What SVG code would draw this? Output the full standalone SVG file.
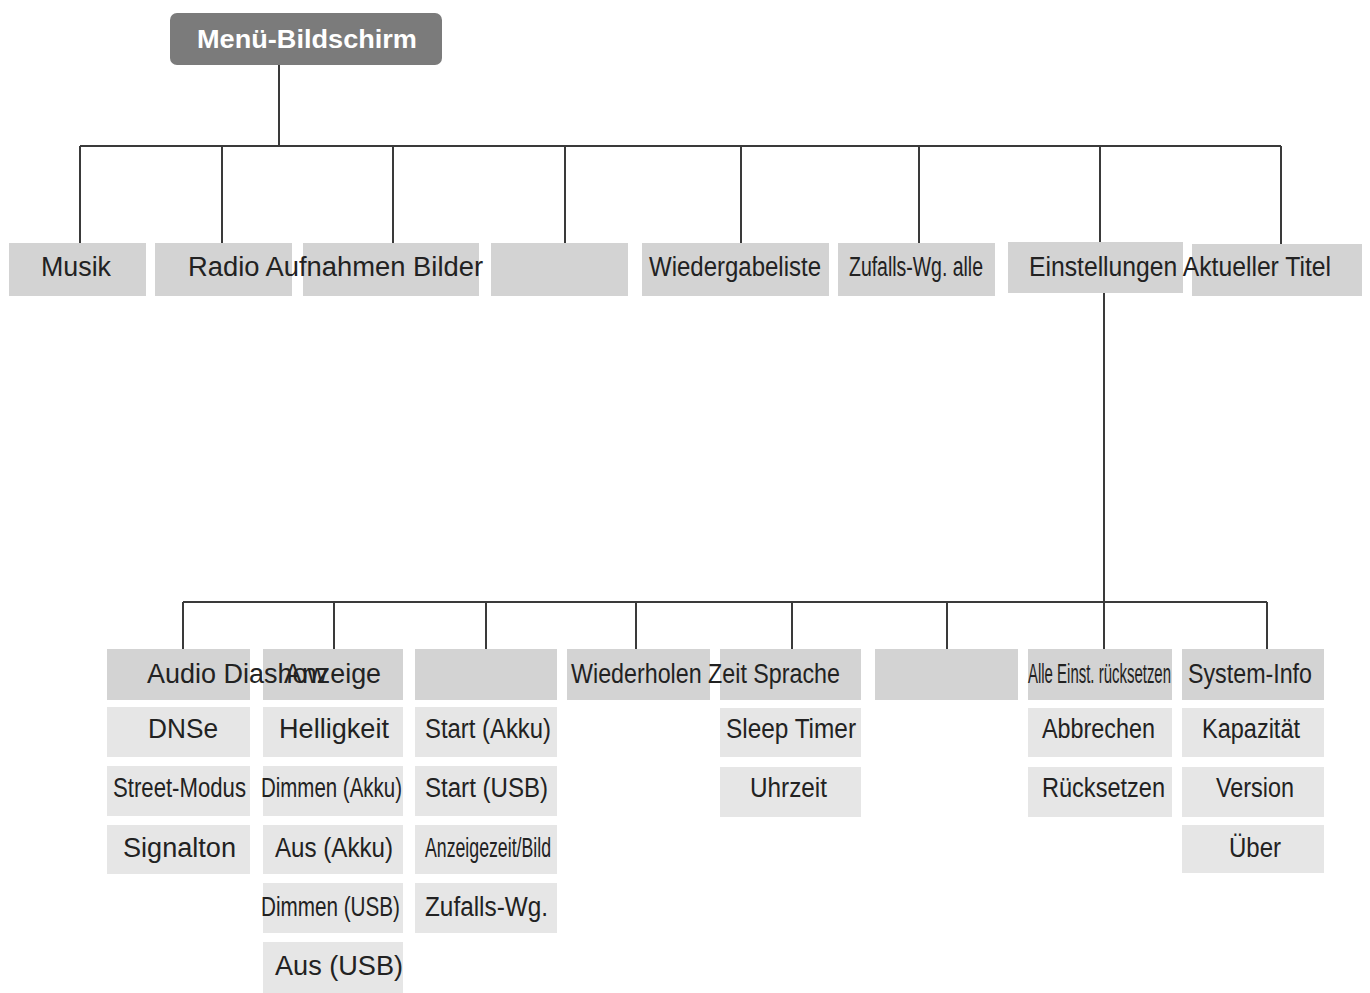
<svg xmlns="http://www.w3.org/2000/svg" width="1370" height="993" viewBox="0 0 1370 993">
<style>
.bg{fill:#ffffff}
.root{fill:#7b7b7b}
.hd{fill:#d3d3d3}
.sub{fill:#e6e6e6}
.t{font-family:"Liberation Sans",Arial,sans-serif;font-size:27px;fill:#222222}
.rt{font-family:"Liberation Sans",Arial,sans-serif;font-size:26px;font-weight:bold;fill:#ffffff}
.ln{stroke:#3a3a3a;stroke-width:2;fill:none}
</style>
<rect class="bg" x="0" y="0" width="1370" height="993"/>
<g id="connectors">
<path class="ln" d="M279 65V146M80 146H1281M80 146V243M222 146V243M393 146V243M565 146V243M741 146V243M919 146V243M1100 146V242M1281 146V244"/>
<path class="ln" d="M1104 293V602M183 602H1267M183 602V649M334 602V649M486 602V649M636 602V649M792 602V649M947 602V649M1104 602V649M1267 602V649"/>
</g>
<g id="root"><rect class="root" x="170" y="13" width="272" height="52" rx="7"/><text class="rt" x="197" y="48" textLength="220" lengthAdjust="spacingAndGlyphs">Menü-Bildschirm</text></g>
<g id="musik"><rect class="hd" x="9" y="243" width="137" height="53"/><text class="t" x="41" y="276" textLength="70" lengthAdjust="spacingAndGlyphs">Musik</text></g>
<g id="radio"><rect class="hd" x="155" y="243" width="137" height="53"/></g>
<g id="aufnahmen"><rect class="hd" x="303" y="243" width="176" height="53"/><text class="t" x="188" y="276" textLength="295" lengthAdjust="spacingAndGlyphs">Radio Aufnahmen Bilder</text></g>
<g id="blank1"><rect class="hd" x="491" y="243" width="137" height="53"/></g>
<g id="wiedergabeliste"><rect class="hd" x="642" y="243" width="187" height="53"/><text class="t" x="649" y="276" textLength="172" lengthAdjust="spacingAndGlyphs">Wiedergabeliste</text></g>
<g id="zufalls"><rect class="hd" x="838" y="243" width="157" height="53"/><text class="t" x="849" y="276" textLength="134" lengthAdjust="spacingAndGlyphs">Zufalls-Wg. alle</text></g>
<g id="einstellungen"><rect class="hd" x="1008" y="242" width="175" height="51"/></g>
<g id="aktueller"><rect class="hd" x="1192" y="244" width="170" height="52"/><text class="t" x="1029" y="276" textLength="302" lengthAdjust="spacingAndGlyphs">Einstellungen Aktueller Titel</text></g>
<g id="col2">
<rect class="hd" x="263" y="649" width="140" height="51"/>
<rect class="sub" x="263" y="707" width="140" height="50"/>
<rect class="sub" x="263" y="766" width="140" height="50"/>
<rect class="sub" x="263" y="825" width="140" height="49"/>
<rect class="sub" x="263" y="883" width="140" height="50"/>
<rect class="sub" x="263" y="942" width="140" height="51"/>
<text class="t" x="284" y="683" textLength="97" lengthAdjust="spacingAndGlyphs">Anzeige</text>
<text class="t" x="279" y="738" textLength="110" lengthAdjust="spacingAndGlyphs">Helligkeit</text>
<text class="t" x="261" y="797" textLength="141" lengthAdjust="spacingAndGlyphs">Dimmen (Akku)</text>
<text class="t" x="275" y="857" textLength="118" lengthAdjust="spacingAndGlyphs">Aus (Akku)</text>
<text class="t" x="261" y="916" textLength="139" lengthAdjust="spacingAndGlyphs">Dimmen (USB)</text>
<text class="t" x="275" y="975" textLength="128" lengthAdjust="spacingAndGlyphs">Aus (USB)</text>
</g>
<g id="col1">
<rect class="hd" x="107" y="649" width="143" height="51"/>
<rect class="sub" x="107" y="707" width="143" height="50"/>
<rect class="sub" x="107" y="766" width="143" height="50"/>
<rect class="sub" x="107" y="825" width="143" height="49"/>
<text class="t" x="147" y="683" textLength="180" lengthAdjust="spacingAndGlyphs">Audio Diashow</text>
<text class="t" x="148" y="738" textLength="70" lengthAdjust="spacingAndGlyphs">DNSe</text>
<text class="t" x="113" y="797" textLength="133" lengthAdjust="spacingAndGlyphs">Street-Modus</text>
<text class="t" x="123" y="857" textLength="113" lengthAdjust="spacingAndGlyphs">Signalton</text>
</g>
<g id="col3">
<rect class="hd" x="415" y="649" width="142" height="51"/>
<rect class="sub" x="415" y="707" width="142" height="50"/>
<rect class="sub" x="415" y="766" width="142" height="50"/>
<rect class="sub" x="415" y="825" width="142" height="49"/>
<rect class="sub" x="415" y="883" width="142" height="50"/>
<text class="t" x="425" y="738" textLength="126" lengthAdjust="spacingAndGlyphs">Start (Akku)</text>
<text class="t" x="425" y="797" textLength="123" lengthAdjust="spacingAndGlyphs">Start (USB)</text>
<text class="t" x="425" y="857" textLength="126" lengthAdjust="spacingAndGlyphs">Anzeigezeit/Bild</text>
<text class="t" x="425" y="916" textLength="123" lengthAdjust="spacingAndGlyphs">Zufalls-Wg.</text>
</g>
<g id="col4"><rect class="hd" x="567" y="649" width="143" height="51"/></g>
<g id="col5">
<rect class="hd" x="720" y="649" width="141" height="51"/>
<rect class="sub" x="720" y="708" width="141" height="49"/>
<rect class="sub" x="720" y="767" width="141" height="50"/>
<text class="t" x="571" y="683" textLength="269" lengthAdjust="spacingAndGlyphs">Wiederholen Zeit Sprache</text>
<text class="t" x="726" y="738" textLength="130" lengthAdjust="spacingAndGlyphs">Sleep Timer</text>
<text class="t" x="750" y="797" textLength="77" lengthAdjust="spacingAndGlyphs">Uhrzeit</text>
</g>
<g id="col6"><rect class="hd" x="875" y="649" width="143" height="51"/></g>
<g id="col7">
<rect class="hd" x="1028" y="649" width="144" height="51"/>
<rect class="sub" x="1028" y="708" width="144" height="49"/>
<rect class="sub" x="1028" y="767" width="144" height="50"/>
<text class="t" x="1028" y="683" textLength="143" lengthAdjust="spacingAndGlyphs">Alle Einst. rücksetzen</text>
<text class="t" x="1042" y="738" textLength="113" lengthAdjust="spacingAndGlyphs">Abbrechen</text>
<text class="t" x="1042" y="797" textLength="123" lengthAdjust="spacingAndGlyphs">Rücksetzen</text>
</g>
<g id="col8">
<rect class="hd" x="1182" y="649" width="142" height="51"/>
<rect class="sub" x="1182" y="708" width="142" height="49"/>
<rect class="sub" x="1182" y="767" width="142" height="50"/>
<rect class="sub" x="1182" y="825" width="142" height="48"/>
<text class="t" x="1188" y="683" textLength="124" lengthAdjust="spacingAndGlyphs">System-Info</text>
<text class="t" x="1202" y="738" textLength="98" lengthAdjust="spacingAndGlyphs">Kapazität</text>
<text class="t" x="1216" y="797" textLength="78" lengthAdjust="spacingAndGlyphs">Version</text>
<text class="t" x="1229" y="857" textLength="52" lengthAdjust="spacingAndGlyphs">Über</text>
</g>
</svg>
